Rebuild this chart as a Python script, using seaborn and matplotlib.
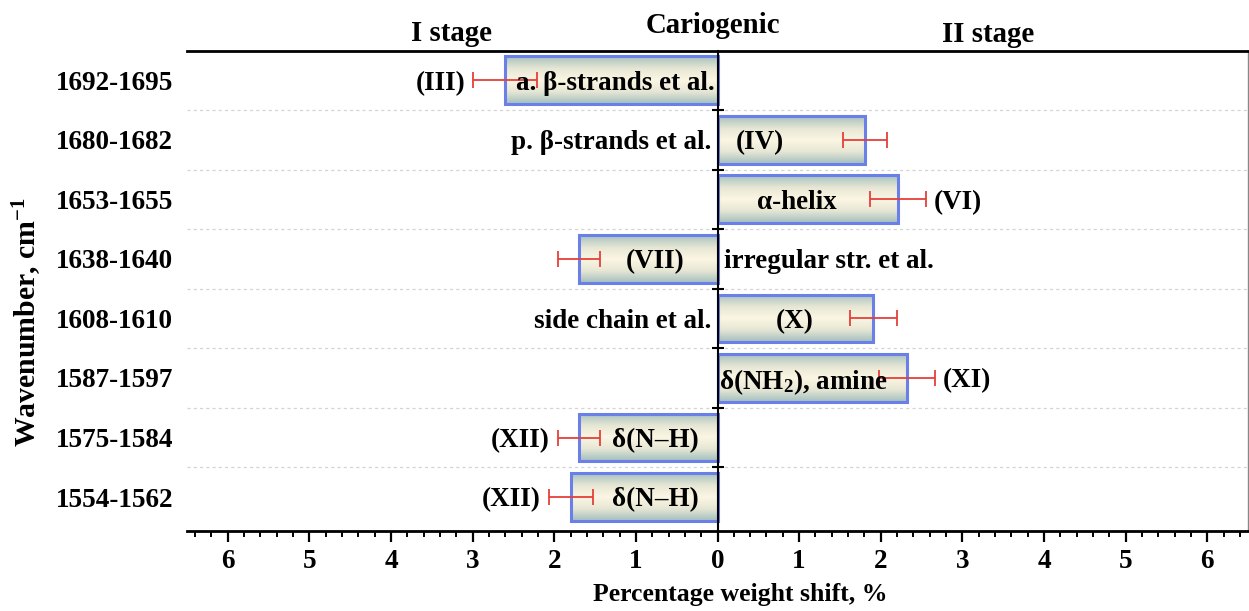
import matplotlib
matplotlib.use("Agg")
import numpy as np
import pandas as pd
import seaborn as sns
import matplotlib.pyplot as plt
import matplotlib.transforms as mtransforms
from matplotlib.ticker import MultipleLocator, FixedLocator, FuncFormatter
from matplotlib.colors import LinearSegmentedColormap

# ---------------- data ----------------
wavenumbers = ["1692-1695", "1680-1682", "1653-1655", "1638-1640",
               "1608-1610", "1587-1597", "1575-1584", "1554-1562"]
shift = [-2.60, 1.81, 2.21, -1.70, 1.91, 2.32, -1.70, -1.80]
shift_err = [0.39, 0.27, 0.34, 0.26, 0.29, 0.34, 0.26, 0.27]
band_labels = ["(III)", "(IV)", "(VI)", "(VII)", "(X)", "(XI)", "(XII)", "(XII)"]
assignments = ["a. β-strands et al.", "p. β-strands et al.", "α-helix",
               "irregular str. et al.", "side chain et al.",
               r"δ(NH$_2$), amine", "δ(N–H)", "δ(N–H)"]
x_ticks = list(range(-6, 7))
stage_titles = ["I stage", "Cariogenic", "II stage"]

# ---------------- layout (positions of annotation texts) ----------------
band_pos = ["outer", 0.52, "outer", -0.76, 0.95, "outer", "outer", "outer"]
assign_pos = [(-0.03, "right"), (-0.07, "right"), (0.97, "center"), (0.08, "left"),
              (-0.07, "right"), (0.02, "left"), (-0.76, "center"), (-0.76, "center")]
stage_pos = [(-3.26, 1.036), (-0.06, 1.054), (3.31, 1.034)]

# ---------------- style ----------------
sns.set_style("ticks")
plt.rcParams["font.family"] = ["Liberation Serif", "DejaVu Serif"]
plt.rcParams["font.weight"] = "bold"
plt.rcParams["mathtext.fontset"] = "custom"
plt.rcParams["mathtext.rm"] = "Liberation Serif:bold"
plt.rcParams["mathtext.it"] = "Liberation Serif:bold:italic"
plt.rcParams["mathtext.bf"] = "Liberation Serif:bold"
plt.rcParams["axes.unicode_minus"] = False
for key in ["text.color", "axes.labelcolor", "xtick.color", "ytick.color",
            "xtick.labelcolor", "ytick.labelcolor"]:
    plt.rcParams[key] = "black"

FS = 19.5
FS_TITLE = 20.8
EDGE = "#6a7fe8"
ERR = "#e5403a"

W, H = 1249, 611
fig = plt.figure(figsize=(W / 100, H / 100), dpi=100)
ax = fig.add_axes([187 / W, 1 - 531 / H, (1248 - 187) / W, (531 - 51) / H])

df = pd.DataFrame({"wavenumber": wavenumbers, "shift": shift, "err": shift_err})
sns.barplot(data=df, x="shift", y="wavenumber", orient="h", width=0.8,
            color="white", edgecolor=EDGE, linewidth=2.2, ax=ax, zorder=3)

# gradient fill for bars
cmap = LinearSegmentedColormap.from_list(
    "barfill", ["#a6c2c0", "#e6e6d4", "#fcf6e4", "#e6e6d4", "#a3bfbf"])
grad = np.linspace(0, 1, 64).reshape(-1, 1)
for p in ax.patches:
    p.set_facecolor("none")
    p.set_zorder(4)
    x0, y0 = p.get_x(), p.get_y()
    w, h = p.get_width(), p.get_height()
    im = ax.imshow(grad, cmap=cmap, extent=[x0, x0 + w, y0 + h, y0],
                   aspect="auto", zorder=3, interpolation="bilinear")
    im.set_clip_path(p)

# error bars (centered on bar end)
ypos = np.arange(len(wavenumbers))
ax.errorbar(df["shift"], ypos, xerr=df["err"], fmt="none", ecolor=ERR,
            elinewidth=1.3, capsize=5.5, capthick=1.3, zorder=6)

# limits
ax.set_xlim(-6.5, 6.5)
ax.set_ylim(len(wavenumbers) - 0.43, -0.49)

# zero line as left spine with boundary ticks
ax.spines["left"].set_position(("data", 0))
ax.spines["left"].set_linewidth(1.5)
ax.spines["left"].set_color("black")
ax.spines["left"].set_zorder(7)
ax.yaxis.set_major_locator(FixedLocator(ypos))
ax.yaxis.set_minor_locator(FixedLocator(ypos[:-1] + 0.5))
ax.tick_params(axis="y", which="major", length=0, labelleft=False)
ax.tick_params(axis="y", which="minor", direction="inout", length=9, width=1.5,
               color="black")
ax.set_ylabel("")

# y tick labels on the outer left
sec = ax.secondary_yaxis("left")
sec.set_yticks(ypos, wavenumbers)
sec.tick_params(length=0, pad=10, labelsize=FS, labelcolor="black")
sec.spines["left"].set_visible(False)
for t in sec.get_yticklabels():
    t.set_fontweight("bold")
sec.set_ylabel(r"Wavenumber, cm$^{-1}$", fontsize=21.4, fontweight="bold",
               color="black")
sec.yaxis.set_label_coords(27 / W, 1 - 322 / H, transform=fig.transFigure)
sec.yaxis.label.set_va("center")

# grid lines between categories
ax.grid(False)
ax.grid(axis="y", which="minor", linestyle=(0, (2.5, 2.5)), color="#d4d4d4",
        linewidth=0.9, zorder=0)

# x axis
ax.xaxis.set_major_locator(FixedLocator(x_ticks))
ax.xaxis.set_minor_locator(MultipleLocator(0.2))
ax.xaxis.set_major_formatter(FuncFormatter(lambda v, pos: f"{abs(v):g}"))
ax.tick_params(axis="x", which="major", direction="out", length=8, width=1.6,
               labelsize=FS, pad=5, color="black", labelcolor="black")
ax.tick_params(axis="x", which="minor", direction="out", length=4.5, width=1.4,
               color="black")
for t in ax.get_xticklabels():
    t.set_fontweight("bold")
ax.set_xlabel("Percentage weight shift, %", fontsize=18.5, fontweight="bold",
              color="black")
ax.xaxis.set_label_coords((740 - 187) / 1061, -(595 - 531) / 480)
ax.xaxis.label.set_va("center")

for side, lw, col in [("top", 2.0, "black"), ("bottom", 2.0, "black"),
                      ("right", 1.0, "#888888")]:
    ax.spines[side].set_visible(True)
    ax.spines[side].set_linewidth(lw)
    ax.spines[side].set_color(col)

# stage titles
tr = mtransforms.blended_transform_factory(ax.transData, ax.transAxes)
for title, (sx, sy) in zip(stage_titles, stage_pos):
    ax.text(sx, sy, title, transform=tr, ha="center", va="center",
            fontsize=FS_TITLE, fontweight="bold", color="black", clip_on=False)

# annotations
for i, (v, e) in enumerate(zip(shift, shift_err)):
    bp = band_pos[i]
    if bp == "outer":
        sgn = 1 if v > 0 else -1
        ax.annotate(band_labels[i], xy=(v + sgn * e, i), xytext=(sgn * 6, 0),
                    textcoords="offset points", ha="left" if sgn > 0 else "right",
                    va="center_baseline", fontsize=FS, fontweight="bold",
                    color="black", zorder=8)
    else:
        ax.text(bp, i, band_labels[i], ha="center", va="center_baseline",
                fontsize=FS, fontweight="bold", color="black", zorder=8)
    axp, aha = assign_pos[i]
    ax.text(axp, i, assignments[i], ha=aha, va="center_baseline",
            fontsize=FS, fontweight="bold", color="black", zorder=8)

fig.savefig("out.png", dpi=100)
